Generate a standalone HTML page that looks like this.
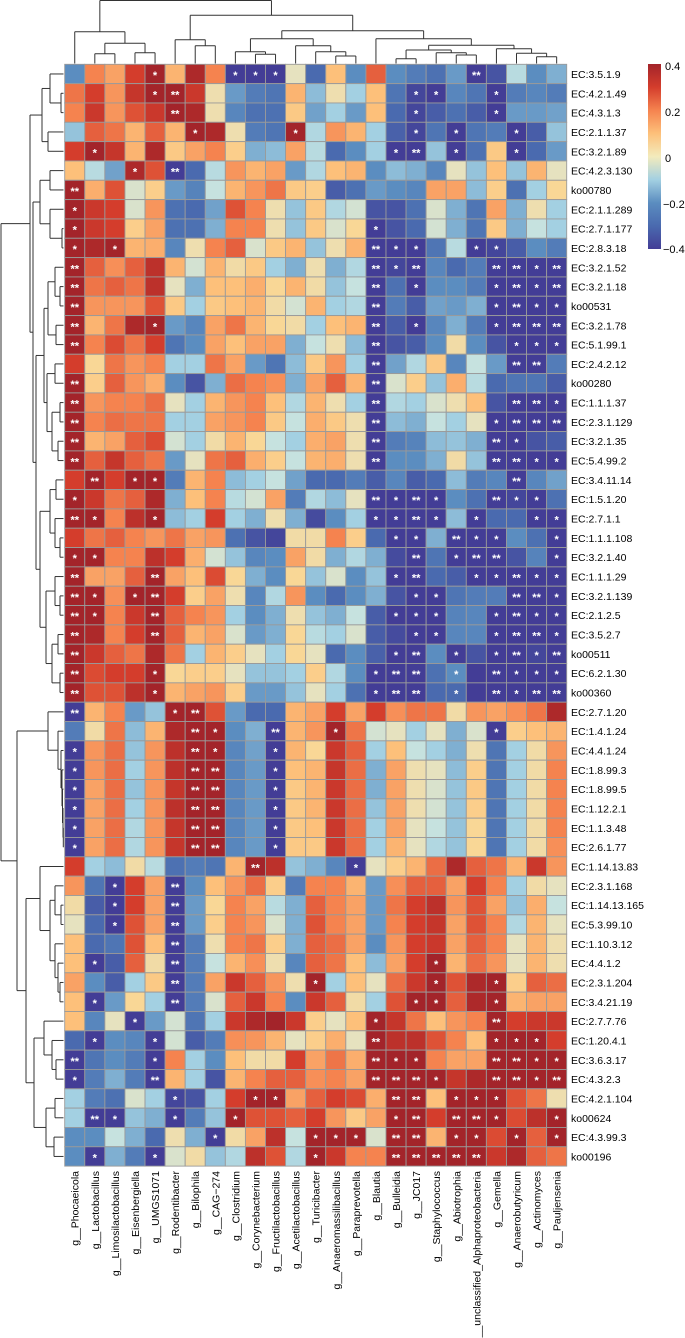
<!DOCTYPE html>
<html><head><meta charset="utf-8"><style>
body{margin:0;background:#fff;}
svg{display:block;font-family:"Liberation Sans",Arial,sans-serif;}
</style></head><body>
<svg id="chart" width="685" height="1338" viewBox="0 0 685 1338" xmlns="http://www.w3.org/2000/svg">
<defs>
<linearGradient id="cbgrad" x1="0" y1="0" x2="0" y2="1">
<stop offset="0" stop-color="#a3242a"/><stop offset="0.125" stop-color="#d43d2c"/><stop offset="0.25" stop-color="#f5834f"/><stop offset="0.375" stop-color="#fdc07a"/><stop offset="0.5" stop-color="#f3ebbc"/><stop offset="0.625" stop-color="#a3d0e2"/><stop offset="0.75" stop-color="#5b8dc0"/><stop offset="0.875" stop-color="#4a6aaf"/><stop offset="1" stop-color="#433d96"/>
</linearGradient>
</defs>
<g id="cells"></g>
<g id="stars"></g>
<g id="rowlabels"></g>
<g id="collabels"></g>
<g id="dendtop" stroke="#333" stroke-width="1" fill="none"></g>
<g id="dendleft" stroke="#333" stroke-width="1" fill="none"></g>
<g id="colorbar">
<rect x="648" y="64" width="13" height="185" fill="url(#cbgrad)"/>
<text x="665" y="70" font-size="11">0.4</text>
<text x="665" y="116" font-size="11">0.2</text>
<text x="665" y="162" font-size="11">0</text>
<text x="663" y="208" font-size="11">−0.2</text>
<text x="663" y="253" font-size="11">−0.4</text>
</g>
</svg>
<script>
const colNames = ["g__Phocaeicola","g__Lactobacillus","g__Limosilactobacillus","g__Eisenbergiella","g__UMGS1071","g__Rodentibacter","g__Bilophila","g__CAG−274","g__Clostridium","g__Corynebacterium","g__Fructilactobacillus","g__Acetilactobacillus","g__Turicibacter","g__Anaeromassilibacillus","g__Paraprevotella","g__Blautia","g__Bulleidia","g__JC017","g__Staphylococcus","g__Abiotrophia","g__unclassified_Alphaproteobacteria","g__Gemella","g__Anaerobutyricum","g__Actinomyces","g__Pauljensenia"];
const rowNames = ["EC:3.5.1.9","EC:4.2.1.49","EC:4.3.1.3","EC:2.1.1.37","EC:3.2.1.89","EC:4.2.3.130","ko00780","EC:2.1.1.289","EC:2.7.1.177","EC:2.8.3.18","EC:3.2.1.52","EC:3.2.1.18","ko00531","EC:3.2.1.78","EC:5.1.99.1","EC:2.4.2.12","ko00280","EC:1.1.1.37","EC:2.3.1.129","EC:3.2.1.35","EC:5.4.99.2","EC:3.4.11.14","EC:1.5.1.20","EC:2.7.1.1","EC:1.1.1.108","EC:3.2.1.40","EC:1.1.1.29","EC:3.2.1.139","EC:2.1.2.5","EC:3.5.2.7","ko00511","EC:6.2.1.30","ko00360","EC:2.7.1.20","EC:1.4.1.24","EC:4.4.1.24","EC:1.8.99.3","EC:1.8.99.5","EC:1.12.2.1","EC:1.1.3.48","EC:2.6.1.77","EC:1.14.13.83","EC:2.3.1.168","EC:1.14.13.165","EC:5.3.99.10","EC:1.10.3.12","EC:4.4.1.2","EC:2.3.1.204","EC:3.4.21.19","EC:2.7.7.76","EC:1.20.4.1","EC:3.6.3.17","EC:4.3.2.3","EC:4.2.1.104","ko00624","EC:4.3.99.3","ko00196"];
const values = [
[-0.2,0.2,0.15,0.3,0.4,0.12,0.38,0.2,-0.4,-0.4,-0.4,0,-0.3,0.1,-0.2,0.25,-0.2,-0.25,-0.28,-0.18,-0.4,-0.35,-0.07,-0.2,-0.15],
[0.22,0.3,0.17,0.33,0.4,0.4,0.32,0.02,-0.18,-0.25,-0.27,0.12,-0.13,0.02,-0.1,0.1,-0.27,-0.38,-0.4,-0.22,-0.27,-0.4,-0.25,-0.22,-0.25],
[0.2,0.32,0.17,0.27,0.32,0.4,0.38,0.02,-0.22,-0.28,-0.28,0.08,-0.17,-0.1,-0.18,0.1,-0.3,-0.38,-0.33,-0.28,-0.33,-0.4,-0.18,-0.18,-0.17],
[-0.12,0.25,0.22,0.12,0.25,0.12,0.4,0.38,0.02,-0.25,-0.27,0.4,-0.08,0.17,0.12,-0.1,-0.32,-0.38,-0.27,-0.4,-0.27,-0.25,-0.4,-0.33,-0.12],
[0.3,0.4,0.33,0.12,0.38,0.08,0.15,0.2,0.07,-0.15,-0.13,0.15,-0.07,-0.3,-0.2,-0.1,-0.4,-0.4,-0.12,-0.4,-0.28,0.08,-0.4,-0.3,-0.18],
[0.1,-0.07,-0.17,0.38,0.27,-0.4,-0.3,-0.07,0.17,0.12,0.15,-0.18,-0.08,0.1,0.12,-0.2,-0.13,-0.15,-0.22,0,-0.12,0.1,-0.12,0.12,0],
[0.4,0.13,0.27,-0.02,0.07,-0.18,-0.23,-0.05,0.12,0.17,0.22,0.08,0.07,-0.33,-0.28,-0.18,-0.2,-0.22,0.15,0.15,-0.13,0.07,-0.28,-0.1,0.05],
[0.4,0.32,0.3,-0.02,0.17,-0.28,-0.3,-0.17,0.27,0.2,0.02,-0.12,0.08,-0.08,-0.03,-0.35,-0.35,-0.28,-0.02,-0.15,-0.27,0.15,-0.15,0.02,-0.1],
[0.4,0.32,0.3,0.07,0.15,-0.28,-0.28,-0.15,0.2,0.2,0.02,-0.12,0.08,-0.02,0.05,-0.4,-0.35,-0.3,-0.03,-0.15,-0.27,0.08,-0.15,-0.05,-0.1],
[0.4,0.38,0.4,0.12,0.13,-0.22,0.02,0.2,0.25,-0.02,0.08,0.12,-0.12,0.02,0.12,-0.4,-0.4,-0.4,-0.27,-0.07,-0.4,-0.38,-0.33,-0.2,-0.25],
[0.4,0.25,0.18,0.25,0.35,0.12,-0.03,0.12,0.03,0.08,-0.1,-0.15,0.02,-0.15,-0.08,-0.4,-0.38,-0.4,-0.22,-0.3,-0.25,-0.4,-0.4,-0.4,-0.4],
[0.4,0.22,0.25,0.22,0.35,0,-0.15,0.1,0.1,0.13,0.05,0.12,0.03,-0.12,-0.05,-0.4,-0.28,-0.4,-0.2,-0.2,-0.25,-0.4,-0.4,-0.4,-0.4],
[0.4,0.17,0.17,0.17,0.27,0.08,-0.1,0.08,0.1,0.12,0.03,-0.03,0.12,-0.1,-0.08,-0.4,-0.25,-0.33,-0.17,-0.18,-0.15,-0.4,-0.4,-0.4,-0.4],
[0.4,0.12,0.22,0.38,0.4,-0.18,-0.22,0.15,0.22,0.12,0.05,0.03,-0.1,0.1,0.12,-0.4,-0.33,-0.4,-0.22,-0.15,-0.25,-0.4,-0.4,-0.4,-0.4],
[0.4,0.2,0.28,0.22,0.3,-0.27,-0.2,0.15,0.1,0.15,0.15,-0.15,-0.05,0.02,-0.13,-0.4,-0.35,-0.33,-0.2,0.03,-0.2,-0.35,-0.4,-0.4,-0.4],
[0.3,0.05,0.22,0.17,0.2,-0.1,-0.1,0.22,0.15,-0.18,-0.27,-0.13,0.08,0.17,-0.1,-0.4,-0.17,-0.08,0.08,-0.22,-0.05,-0.18,-0.4,-0.4,-0.25],
[0.4,0.07,0.25,0.17,0.13,-0.2,-0.35,-0.15,0.23,0.2,0.18,-0.15,0.15,0.25,0.12,-0.4,-0.02,0.07,-0.12,0.13,-0.07,-0.3,-0.27,-0.27,-0.33],
[0.4,0.17,0.2,0.2,0.23,0,-0.1,0.12,0.17,0.2,0.1,-0.08,0.12,0.02,-0.1,-0.4,-0.08,-0.1,-0.02,0.02,0.1,-0.35,-0.4,-0.4,-0.4],
[0.4,0.2,0.23,0.22,0.22,-0.1,-0.1,0.15,0.17,0.2,0.08,-0.05,0.13,0.08,0.02,-0.4,-0.13,-0.15,-0.05,-0.1,0,-0.4,-0.4,-0.4,-0.4],
[0.4,0.12,0.15,0.25,0.28,-0.03,-0.1,0.03,0.12,0.05,-0.05,-0.1,0.13,0.15,0.02,-0.4,-0.25,-0.23,-0.13,-0.12,-0.15,-0.4,-0.4,-0.35,-0.33],
[0.4,0.25,0.33,0.25,0.22,-0.18,0,0.22,0.25,0.13,0.07,-0.05,0.12,0.13,0.02,-0.4,-0.2,-0.2,-0.15,0.03,-0.12,-0.4,-0.4,-0.4,-0.4],
[0.3,0.4,0.3,0.4,0.4,-0.25,0.12,0.2,-0.13,-0.1,-0.05,-0.17,-0.3,-0.3,-0.25,-0.33,-0.22,-0.33,-0.3,-0.13,-0.25,-0.22,-0.4,-0.22,-0.17],
[0.4,0.32,0.22,0.25,0.38,-0.15,0.1,0.2,-0.07,-0.03,0.15,-0.25,-0.08,-0.13,0,-0.4,-0.4,-0.4,-0.4,-0.2,-0.28,-0.4,-0.38,-0.4,-0.28],
[0.4,0.4,0.2,0.35,0.4,-0.13,-0.1,0.3,-0.1,-0.15,0.02,-0.15,-0.37,-0.2,-0.1,-0.4,-0.4,-0.4,-0.4,-0.13,-0.4,-0.3,-0.3,-0.4,-0.4],
[0.3,0.22,0.25,0.2,0.17,0.22,0.15,0.17,-0.28,-0.35,-0.38,0.03,0.03,0.2,0.07,-0.3,-0.4,-0.4,-0.15,-0.4,-0.4,-0.4,-0.2,-0.28,-0.4],
[0.4,0.4,0.2,0.2,0.35,0.3,0.13,-0.03,-0.12,-0.22,-0.2,0.15,0.03,-0.15,-0.08,-0.15,-0.37,-0.4,-0.27,-0.4,-0.4,-0.4,-0.35,-0.23,-0.4],
[0.4,0.15,0.15,0.25,0.4,0.15,0.1,0.28,0.05,-0.15,-0.2,0.05,-0.12,-0.02,-0.2,-0.12,-0.4,-0.4,-0.3,-0.33,-0.4,-0.4,-0.4,-0.4,-0.4],
[0.4,0.4,0.18,0.4,0.4,0.3,0.07,0.15,0.02,-0.22,-0.08,0.17,-0.2,-0.3,-0.2,-0.15,-0.35,-0.4,-0.4,-0.27,-0.25,-0.25,-0.4,-0.4,-0.4],
[0.4,0.4,0.2,0.32,0.4,0.25,0.2,0.17,-0.1,-0.2,-0.15,0.02,-0.12,-0.15,-0.05,-0.33,-0.4,-0.4,-0.4,-0.23,-0.22,-0.4,-0.4,-0.4,-0.4],
[0.4,0.38,0.2,0.3,0.4,0.25,0.12,0.15,-0.02,-0.18,-0.15,0.05,-0.07,-0.1,-0.02,-0.33,-0.37,-0.4,-0.4,-0.22,-0.22,-0.4,-0.4,-0.4,-0.4],
[0.4,0.32,0.25,0.22,0.38,0.22,-0.1,0.12,0.07,0,-0.1,0.05,0,-0.3,-0.2,-0.32,-0.4,-0.4,-0.2,-0.4,-0.35,-0.4,-0.4,-0.38,-0.4],
[0.4,0.28,0.3,0.3,0.4,0.05,0.07,0.07,0,-0.12,-0.12,-0.1,0.07,-0.08,-0.2,-0.4,-0.4,-0.4,-0.28,-0.2,-0.4,-0.4,-0.4,-0.4,-0.4],
[0.4,0.27,0.27,0.35,0.4,0.12,0.15,0.17,0.07,-0.18,-0.18,-0.12,0,-0.1,-0.28,-0.4,-0.4,-0.4,-0.3,-0.3,-0.4,-0.4,-0.4,-0.4,-0.4],
[-0.4,0.12,0.2,-0.18,-0.12,0.4,0.4,0.27,-0.18,-0.3,-0.3,0.12,0.15,0.3,0.15,0.3,0.18,0.22,0.22,0.03,0.17,0.15,0.18,0.22,0.38],
[-0.25,0.03,0.22,-0.13,0.12,0.38,0.4,0.4,-0.2,-0.15,-0.4,0.12,0.17,0.4,0.22,-0.03,0,-0.1,0,-0.15,-0.02,-0.4,0.07,0.1,0.12],
[-0.4,0.17,0.23,-0.12,0.17,0.35,0.4,0.4,-0.22,-0.17,-0.4,0.12,0.05,0.32,0.25,-0.1,0.1,-0.05,-0.1,-0.15,0.02,-0.27,-0.1,0.03,0.17],
[-0.4,0.17,0.23,-0.1,0.17,0.35,0.4,0.4,-0.22,-0.18,-0.4,0.1,0.12,0.33,0.23,-0.15,0.15,0.02,0,-0.13,0.07,-0.27,-0.1,0.03,0.2],
[-0.4,0.15,0.23,-0.12,0.17,0.33,0.4,0.4,-0.22,-0.18,-0.4,0.08,0.12,0.32,0.23,-0.15,0.15,0.02,-0.02,-0.12,0.08,-0.27,-0.1,0.03,0.2],
[-0.4,0.15,0.23,-0.1,0.17,0.35,0.4,0.4,-0.22,-0.18,-0.4,0.08,0.12,0.32,0.23,-0.12,0.15,0.02,-0.03,-0.12,0.07,-0.27,-0.1,0.03,0.2],
[-0.4,0.15,0.23,-0.08,0.17,0.33,0.4,0.4,-0.22,-0.18,-0.4,0.08,0.1,0.32,0.23,-0.1,0.15,0,-0.05,-0.12,0.05,-0.27,-0.1,0.03,0.2],
[-0.4,0.15,0.23,-0.08,0.17,0.33,0.4,0.4,-0.22,-0.18,-0.4,0.08,0.08,0.32,0.23,-0.1,0.12,0,-0.08,-0.12,0.05,-0.27,-0.1,0.03,0.18],
[0.3,-0.1,-0.13,0.03,-0.07,-0.28,-0.25,-0.27,0.12,0.4,0.35,-0.12,-0.15,-0.22,-0.4,0,0.07,0.12,0.23,0.38,0.25,0.22,0.12,0.32,0.17],
[0.17,-0.27,-0.4,0.3,0.15,-0.4,-0.2,0.1,0.17,0.23,0.07,-0.25,0.2,0.2,0.12,-0.18,0.18,0.25,0.25,0.15,0.3,0.2,-0.1,0.03,0],
[0.03,-0.33,-0.4,0.3,0.15,-0.4,-0.18,0.05,0.2,0.15,-0.07,-0.15,0.25,0.2,0.15,-0.18,0.22,0.3,0.35,0.17,0.27,0.15,-0.12,0.13,-0.05],
[0,-0.3,-0.4,0.27,0.15,-0.4,-0.18,0.07,0.2,0.17,-0.02,-0.15,0.27,0.2,0.15,-0.18,0.2,0.3,0.33,0.15,0.27,0.2,-0.08,0.12,0],
[0.1,-0.3,-0.27,0.27,0.1,-0.4,-0.25,0.02,0.2,0.22,0.07,-0.15,0.25,0.23,0.15,-0.2,0.17,0.3,0.32,0.15,0.25,0.2,0,0.12,0.02],
[0.1,-0.4,-0.33,0.25,0.03,-0.4,-0.25,-0.05,0.12,0.18,0.02,-0.22,0.25,0.22,0.1,-0.13,0.15,0.3,0.4,0.12,0.23,0.17,0,0.12,0.02],
[0.15,-0.2,-0.33,-0.1,0.08,-0.4,-0.25,0.15,0.32,0.25,0.17,0.02,0.4,-0.1,0.1,0,0.23,0.32,0.4,0.27,0.38,0.4,0.07,0.25,0.23],
[0.1,-0.4,-0.18,0.05,-0.1,-0.4,-0.25,-0.02,0.25,0.32,0.2,-0.2,0.32,0.25,0.03,-0.1,0.27,0.4,0.4,0.25,0.38,0.4,0.12,0.15,0.15],
[0.1,-0.22,0,-0.4,-0.18,-0.03,-0.27,-0.1,0.32,0.38,0.4,0.32,0.07,0,0.1,0.4,0.33,0.22,0.1,0.17,0.2,0.4,0.3,0.32,0.32],
[-0.3,-0.4,-0.2,-0.22,-0.4,-0.03,-0.33,-0.25,0.18,0.17,0.12,0,0.07,0.13,0,0.4,0.35,0.35,0.27,0.2,0.1,0.4,0.4,0.4,0.3],
[-0.4,-0.27,-0.2,-0.25,-0.4,0.2,-0.1,-0.2,0.1,0.03,0.03,0.3,0.15,0.22,0.13,0.4,0.4,0.4,0.2,0.15,0.15,0.4,0.4,0.4,0.4],
[-0.4,-0.25,-0.15,-0.25,-0.4,0.12,-0.1,-0.35,0.12,0.2,0.25,0.25,0.18,0.2,0.15,0.4,0.4,0.4,0.4,0.33,0.38,0.4,0.4,0.4,0.4],
[-0.1,-0.25,-0.28,-0.02,-0.1,-0.38,-0.35,-0.1,0.3,0.4,0.4,0.15,0.25,0.3,0.28,0.13,0.4,0.4,0.1,0.4,0.4,0.4,0.27,0.22,0.02],
[-0.1,-0.4,-0.4,-0.12,-0.15,-0.4,-0.25,-0.12,0.4,0.27,0.27,0.25,0.3,0.17,0.08,0.15,0.4,0.4,0.3,0.4,0.4,0.4,0.28,0.35,0.4],
[-0.2,-0.2,-0.05,-0.15,-0.3,0.02,-0.15,-0.4,0.03,0.15,0.35,-0.05,0.4,0.4,0.4,-0.02,0.4,0.4,0.12,0.4,0.4,0.28,0.4,0.25,0.4],
[-0.2,-0.4,-0.15,-0.25,-0.4,-0.02,0.03,-0.12,-0.08,0.35,0.27,-0.08,0.4,0.32,0.2,0.2,0.4,0.4,0.4,0.4,0.4,0.32,0.38,0.25,0.22]
];
const stars = [
"....1...111.........2....","....12...........11..1...",".....2...........1...1...","......1....1.....1.1..1..",".1..............12.1..1..","...1.2...................","2........................","1........................","1..............1.........","1.1............211..11...",
"2..............212...2212","2..............2.1...1212","2..............2.....1211","2...1..........2.1...1222","2..............2......111","...............2......22.","2..............2.........","2..............2......221","2..............2.....1222","2..............2.....21..",
"2..............2.....2211",".2.11.................2..","1..............2121..211.","21..1..........1121.1..11","................11.211..1","11...............2.122..1","2...2...........12..11211","21.12............11...221","21..2...........111..1211","2...2............11..1221",
"2...............12.1.1212","2...1..........122.1.2111","2...1..........122.1.2122","2....12..................","......21..2..1.......1...","1.....21..1..............","1.....22..1..............","1.....22..1..............","1.....22..1..............","1.....22..1..............",
"1.....22..1..............",".........2....1..........","..1..2...................","..1..2...................","..1..2...................",".....2...................",".1...2............1......",".....2......1.....1..1...",".1...2...........11..1...","...1...........1.....2...",
".1..1..........2.....111.","2...1..........211...2211","1...2..........2221..2212",".....1...11.....22.111...",".21..1..1.......12.221..1",".......1....111.22.11.1.1",".1..1.......1...22222...."
];
const topTree = [0.5,[31.7,0,[43.3,[53.7,1,2],[52.7,3,4]]],[15.3,[39.7,5,[45.7,6,7]],[30.7,[38.7,[51.7,8,[54.3,9,10]],[45.7,11,[51.7,12,[56,13,14]]]],[38.7,15,[45.3,[50,[58.7,16,17],[52.7,18,[55,19,20]]],[48.7,21,[53.3,22,[56.7,23,24]]]]]]]];
const leftTree = [1,[30,[42,[50,0,[61,1,2]],[48,3,4]],[33,[40,[50,5,6],[50,7,[62,8,9]]],[36,[44,[48,[55,10,[60,11,12]],[56,13,14]],[47,[55,15,16],[52,[60,17,18],[58,19,20]]]],[40,[50,[56,21,22],[55,23,[60,24,25]]],[46,[55,26,[60,27,28]],[52,[58,29,30],[60,31,32]]]]]]],[17,[48,33,[58,34,[61,35,[62,36,[62.5,37,[63,38,[63.3,39,40]]]]]]],[26,[40,41,[50,[55,42,[61,43,44]],[55,45,[58,46,[60,47,48]]]]],[34,[44,49,[52,50,[56,51,52]]],[46,[55,53,54],[54,55,56]]]]]];

const NS = "http://www.w3.org/2000/svg";
const X0 = 64.7, Y0 = 64.3, CW = 20.08, RH = 19.33;
function xCol(j){ return X0 + j*CW; }
function yRow(i){ return Y0 + i*RH; }
const stopsV = [0.4,0.3,0.2,0.1,0.05,0,-0.05,-0.1,-0.2,-0.3,-0.4];
const stopsC = ["#a3242a","#d43d2c","#f5834f","#fdc07a","#f9d796","#e6e2bf","#c6e2df","#a3d0e2","#5b8dc0","#4a6aaf","#433d96"];
function hex(c){ return [parseInt(c.slice(1,3),16),parseInt(c.slice(3,5),16),parseInt(c.slice(5,7),16)]; }
function color(v){
  v = Math.max(-0.4, Math.min(0.4, v));
  for (let k=0;k<stopsV.length-1;k++){
    const a=stopsV[k], b=stopsV[k+1];
    if (v<=a && v>=b){
      const t=(a-v)/(a-b), ca=hex(stopsC[k]), cb=hex(stopsC[k+1]);
      return "rgb("+ca.map((x,i)=>Math.round(x+(cb[i]-x)*t)).join(",")+")";
    }
  }
  return stopsC[0];
}
const gCells = document.getElementById("cells");
const gStars = document.getElementById("stars");
values.forEach((row,i)=>{
  row.forEach((v,j)=>{
    const r = document.createElementNS(NS,"rect");
    r.setAttribute("x", xCol(j)); r.setAttribute("y", yRow(i));
    r.setAttribute("width", CW); r.setAttribute("height", RH);
    r.setAttribute("fill", color(v)); r.setAttribute("stroke", "#9a9a9a"); r.setAttribute("stroke-width","0.9");
    
    
    gCells.appendChild(r);
    const s = (stars[i]||"")[j];
    if (s==="1"||s==="2"){
      const t = document.createElementNS(NS,"text");
      t.setAttribute("x", xCol(j)+CW/2); t.setAttribute("y", yRow(i)+RH/2+5);
      t.setAttribute("text-anchor","middle"); t.setAttribute("fill","#fff");
      t.setAttribute("font-size","11"); t.setAttribute("font-weight","bold");
      t.textContent = s==="1" ? "*" : "**";
      
      
      gStars.appendChild(t);
    }
  });
});
const gRL = document.getElementById("rowlabels");
rowNames.forEach((n,i)=>{
  const t = document.createElementNS(NS,"text");
  t.setAttribute("x", 571); t.setAttribute("y", yRow(i)+RH/2+4);
  t.setAttribute("font-size","10.5"); t.setAttribute("fill","#000");
  t.textContent = n;
  
  
  gRL.appendChild(t);
});
const gCL = document.getElementById("collabels");
colNames.forEach((n,j)=>{
  const t = document.createElementNS(NS,"text");
  const cx = xCol(j)+CW/2+4, cy = 1171;
  t.setAttribute("x", cx); t.setAttribute("y", cy);
  t.setAttribute("transform","rotate(-90 "+cx+" "+cy+")");
  t.setAttribute("text-anchor","end"); t.setAttribute("font-size","10.5"); t.setAttribute("fill","#000");
  t.textContent = n;
  
  
  gCL.appendChild(t);
});
function line(g,x1,y1,x2,y2){
  const l = document.createElementNS(NS,"line");
  l.setAttribute("x1",x1); l.setAttribute("y1",y1); l.setAttribute("x2",x2); l.setAttribute("y2",y2);
  
  
  g.appendChild(l);
}
const gT = document.getElementById("dendtop");
function drawTop(n){
  if (typeof n === "number") return [xCol(n)+CW/2, 63.5];
  const a = drawTop(n[1]), b = drawTop(n[2]), h = n[0];
  line(gT,a[0],a[1],a[0],h); line(gT,b[0],b[1],b[0],h); line(gT,a[0],h,b[0],h);
  return [(a[0]+b[0])/2, h];
}
drawTop(topTree);
const gL = document.getElementById("dendleft");
function drawLeft(n){
  if (typeof n === "number") return [yRow(n)+RH/2, 63.5];
  const a = drawLeft(n[1]), b = drawLeft(n[2]), h = n[0];
  line(gL,a[1],a[0],h,a[0]); line(gL,b[1],b[0],h,b[0]); line(gL,h,a[0],h,b[0]);
  return [(a[0]+b[0])/2, h];
}
drawLeft(leftTree);
</script>
</body></html>
